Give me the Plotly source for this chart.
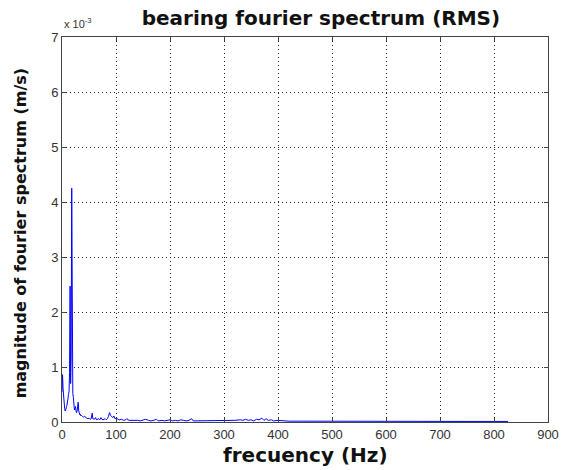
import plotly.graph_objects as go

# frequency (Hz) and magnitude (x1e-3 m/s)
freq = [0, 1, 2, 3, 4, 5, 6, 7, 8, 9, 10, 11, 12, 13, 14, 15, 16, 17, 18, 19,
        20, 21, 22, 23, 24, 25, 26, 27, 28, 29, 30, 31, 32, 33, 34, 35, 36, 38,
        40, 42, 44, 46, 48, 50, 52, 54, 56, 57, 60, 62, 64, 66, 68, 70, 72, 74,
        76, 78, 80, 82, 84, 86, 88, 90, 92, 94, 96, 98, 100, 103, 106, 110, 114,
        118, 120, 124, 130, 135, 140, 145, 150, 155, 160, 165, 170, 175, 178,
        185, 190, 195, 200, 205, 210, 215, 220, 225, 230, 235, 240, 243, 250,
        260, 270, 280, 290, 300, 310, 320, 330, 335, 340, 345, 350, 355, 360,
        365, 370, 374, 378, 382, 388, 392, 400, 410, 420, 450, 500, 550, 600,
        650, 700, 750, 800, 826]
mag_e3 = [0.55, 0.86, 0.6, 0.38, 0.3, 0.24, 0.2, 0.22, 0.26, 0.3, 0.34, 0.42,
          0.5, 0.55, 0.9, 2.47, 0.7, 1.2, 4.25, 0.95, 0.52, 0.45, 0.3, 0.22,
          0.25, 0.28, 0.2, 0.17, 0.2, 0.25, 0.36, 0.2, 0.15, 0.13, 0.14, 0.11,
          0.12, 0.1, 0.09, 0.1, 0.08, 0.07, 0.06, 0.07, 0.05, 0.06, 0.16, 0.06,
          0.05, 0.08, 0.04, 0.05, 0.06, 0.04, 0.08, 0.05, 0.04, 0.05, 0.06,
          0.04, 0.06, 0.1, 0.17, 0.12, 0.1, 0.08, 0.11, 0.06, 0.07, 0.05, 0.04,
          0.05, 0.03, 0.04, 0.06, 0.03, 0.03, 0.04, 0.03, 0.02, 0.03, 0.05,
          0.03, 0.02, 0.03, 0.05, 0.02, 0.03, 0.02, 0.03, 0.04, 0.02, 0.03,
          0.02, 0.04, 0.03, 0.02, 0.03, 0.06, 0.02, 0.02, 0.03, 0.02, 0.02,
          0.03, 0.02, 0.02, 0.03, 0.04, 0.03, 0.05, 0.03, 0.04, 0.02, 0.05,
          0.04, 0.07, 0.03, 0.06, 0.03, 0.04, 0.02, 0.03, 0.02, 0.015, 0.015,
          0.012, 0.012, 0.01, 0.01, 0.01, 0.01, 0.01, 0.01]
mag = [v * 1e-3 for v in mag_e3]

x_ticks = [0, 100, 200, 300, 400, 500, 600, 700, 800, 900]
y_tick_vals = [0, 1e-3, 2e-3, 3e-3, 4e-3, 5e-3, 6e-3, 7e-3]
y_tick_text = ["0", "1", "2", "3", "4", "5", "6", "7"]

fig = go.Figure()
fig.add_trace(go.Scatter(x=freq, y=mag, mode="lines",
                         line=dict(color="#0000ff", width=1),
                         showlegend=False, hoverinfo="skip"))

axis_common = dict(showline=True, linecolor="#444444", linewidth=1, mirror="allticks",
                   showgrid=True, gridcolor="#222222", gridwidth=1, griddash="1px,3px",
                   zeroline=False, ticks="inside", ticklen=4, tickcolor="#444444",
                   tickfont=dict(family="Liberation Sans", size=13, color="#333333"))

fig.update_xaxes(range=[0, 900], tickvals=x_ticks, **axis_common)
fig.update_yaxes(range=[0, 0.007], tickvals=y_tick_vals, ticktext=y_tick_text, **axis_common)

fig.update_layout(
    width=571, height=470,
    margin=dict(l=62, r=23, t=37, b=48),
    paper_bgcolor="white", plot_bgcolor="white",
    title=dict(text="<b>bearing fourier spectrum (RMS)</b>", x=0.562, xanchor="center",
               y=1 - 18 / 470, yanchor="middle", yref="container",
               font=dict(family="DejaVu Sans", size=20, color="#111111")),
    annotations=[
        dict(text="<b>frecuency (Hz)</b>", xref="paper", yref="paper", x=0.5, y=-33 / 385,
             xanchor="center", yanchor="middle", showarrow=False,
             font=dict(family="DejaVu Sans", size=20, color="#111111")),
        dict(text="<b>magnitude of fourier spectrum (m/s)</b>", xref="paper", yref="paper",
             x=-42 / 486, y=0.49, xanchor="center", yanchor="middle", textangle=-90,
             showarrow=False, font=dict(family="DejaVu Sans", size=16, color="#111111")),
        dict(text="x 10<sup>-3</sup>", xref="paper", yref="paper", x=0.0, y=1.0 + 14 / 385,
             xanchor="left", yanchor="middle", showarrow=False,
             font=dict(family="Liberation Sans", size=11, color="#333333")),
    ],
)

fig.write_html("out.html")
